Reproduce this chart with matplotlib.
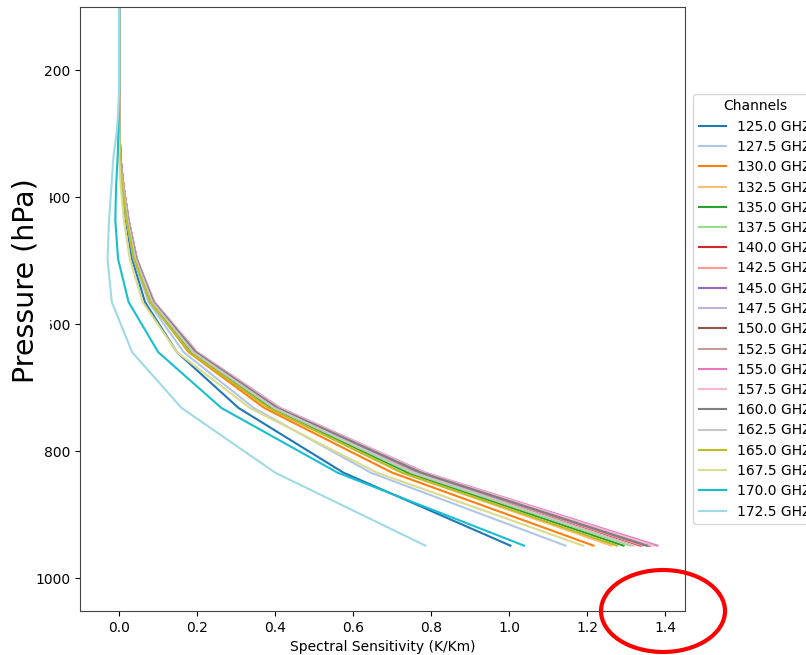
import numpy as np
import matplotlib
matplotlib.use('Agg')
import matplotlib.pyplot as plt
from matplotlib.patches import Ellipse

# pressure levels (hPa), bottom to top
levels = [949, 834, 732, 644, 565, 497, 436, 383, 337, 296, 260, 228, 201, 176, 155, 136, 120, 105, 92]

channels = ['125.0', '127.5', '130.0', '132.5', '135.0', '137.5', '140.0', '142.5', '145.0', '147.5',
            '150.0', '152.5', '155.0', '157.5', '160.0', '162.5', '165.0', '167.5', '170.0', '172.5']

# spectral sensitivity (K/Km) per channel, same order as levels
c125_0 = [1.003, 0.575, 0.306, 0.148, 0.066, 0.033, 0.017, 0.008, 0.002, 0.001, 0, 0, 0, 0, 0, 0, 0, 0, 0]
c127_5 = [1.144, 0.645, 0.345, 0.165, 0.075, 0.037, 0.019, 0.009, 0.003, 0.001, 0, 0, 0, 0, 0, 0, 0, 0, 0]
c130_0 = [1.216, 0.700, 0.372, 0.178, 0.081, 0.040, 0.021, 0.010, 0.003, 0.001, 0, 0, 0, 0, 0, 0, 0, 0, 0]
c132_5 = [1.262, 0.725, 0.385, 0.184, 0.084, 0.042, 0.022, 0.010, 0.003, 0.001, 0, 0, 0, 0, 0, 0, 0, 0, 0]
c135_0 = [1.293, 0.740, 0.392, 0.187, 0.085, 0.043, 0.023, 0.010, 0.003, 0.001, 0, 0, 0, 0, 0, 0, 0, 0, 0]
c137_5 = [1.310, 0.750, 0.396, 0.189, 0.086, 0.043, 0.023, 0.011, 0.003, 0.001, 0, 0, 0, 0, 0, 0, 0, 0, 0]
c140_0 = [1.336, 0.760, 0.400, 0.192, 0.087, 0.044, 0.023, 0.011, 0.003, 0.001, 0, 0, 0, 0, 0, 0, 0, 0, 0]
c142_5 = [1.342, 0.765, 0.402, 0.193, 0.087, 0.044, 0.024, 0.011, 0.003, 0.001, 0, 0, 0, 0, 0, 0, 0, 0, 0]
c145_0 = [1.352, 0.770, 0.404, 0.194, 0.088, 0.044, 0.024, 0.011, 0.003, 0.001, 0, 0, 0, 0, 0, 0, 0, 0, 0]
c147_5 = [1.356, 0.772, 0.405, 0.195, 0.088, 0.045, 0.024, 0.011, 0.003, 0.001, 0, 0, 0, 0, 0, 0, 0, 0, 0]
c150_0 = [1.360, 0.775, 0.406, 0.196, 0.088, 0.045, 0.024, 0.011, 0.003, 0.001, 0, 0, 0, 0, 0, 0, 0, 0, 0]
c152_5 = [1.362, 0.777, 0.407, 0.197, 0.089, 0.045, 0.024, 0.011, 0.003, 0.001, 0, 0, 0, 0, 0, 0, 0, 0, 0]
c155_0 = [1.380, 0.785, 0.413, 0.200, 0.090, 0.045, 0.024, 0.011, 0.003, 0.001, 0, 0, 0, 0, 0, 0, 0, 0, 0]
c157_5 = [1.370, 0.782, 0.411, 0.199, 0.090, 0.045, 0.024, 0.011, 0.003, 0.001, 0, 0, 0, 0, 0, 0, 0, 0, 0]
c160_0 = [1.353, 0.775, 0.406, 0.196, 0.088, 0.044, 0.023, 0.010, 0.003, 0.001, 0, 0, 0, 0, 0, 0, 0, 0, 0]
c162_5 = [1.318, 0.755, 0.398, 0.190, 0.085, 0.042, 0.022, 0.010, 0.002, 0.001, 0, 0, 0, 0, 0, 0, 0, 0, 0]
c165_0 = [1.276, 0.725, 0.383, 0.180, 0.079, 0.038, 0.019, 0.008, 0.002, 0.000, 0, 0, 0, 0, 0, 0, 0, 0, 0]
c167_5 = [1.189, 0.661, 0.335, 0.148, 0.060, 0.027, 0.012, 0.004, 0.000, 0.000, 0, 0, 0, 0, 0, 0, 0, 0, 0]
c170_0 = [1.038, 0.560, 0.262, 0.100, 0.024, -0.003, -0.010, -0.008, -0.004, -0.002, -0.001, 0, 0, 0, 0, 0, 0, 0, 0]
c172_5 = [0.785, 0.400, 0.160, 0.033, -0.019, -0.030, -0.026, -0.020, -0.015, -0.006, -0.002, 0, 0, 0, 0, 0, 0, 0, 0]

series = [c125_0, c127_5, c130_0, c132_5, c135_0, c137_5, c140_0, c142_5, c145_0, c147_5,
          c150_0, c152_5, c155_0, c157_5, c160_0, c162_5, c165_0, c167_5, c170_0, c172_5]

fig = plt.figure(figsize=(8.06, 6.55), dpi=100)
ax = fig.add_axes([80/806, 1 - 611/655, 605/806, 604/655])

cmap = plt.get_cmap('tab20')
for i, (ch, vals) in enumerate(zip(channels, series)):
    ax.plot(vals, levels, color=cmap(i), linewidth=1.5, label=f'{ch} GHZ')

ax.set_ylim(1052, 100)
ax.set_xlabel('Spectral Sensitivity (K/Km)', fontsize=10)
for s in ax.spines.values():
    s.set_color('#444444')

fig.text(26/806, 1 - 281/655, 'Pressure (hPa)', rotation=90, fontsize=20.5,
         ha='center', va='center',
         bbox=dict(facecolor='white', edgecolor='none', pad=7))

fig.legend(loc='upper left', bbox_to_anchor=(686/806, 1 - 87/655),
           title='Channels', fontsize=10, title_fontsize=10, labelspacing=0.45)

fig.add_artist(Ellipse((663/806, 1 - 611/655), 124/806, 82/655,
                       transform=fig.transFigure, fill=False,
                       edgecolor='red', linewidth=3))

plt.savefig('out.png', dpi=100)
